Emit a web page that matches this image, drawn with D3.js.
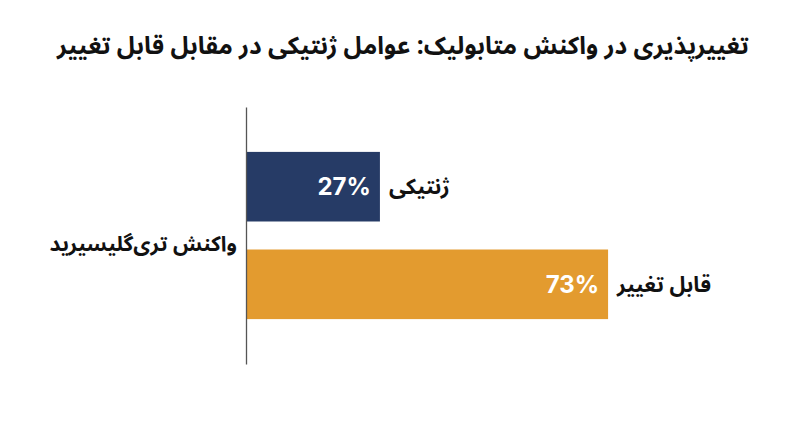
<!DOCTYPE html>
<html>
<head>
<meta charset="utf-8">
<script src="https://cdn.jsdelivr.net/npm/d3@7"></script>
<style>
  body { margin: 0; background: #fff; }
  svg { display: block; }
</style>
</head>
<body>
<script>
var title = "تغییرپذیری در واکنش متابولیک: عوامل ژنتیکی در مقابل قابل تغییر";
var category = "واکنش تری‌گلیسیرید";
var factors = ["ژنتیکی", "قابل تغییر"];
var shares = [27, 73];
var colors = ["#263b66", "#e39b2f"];

var width = 800, height = 447;
var faFont = "'Noto Sans Arabic', 'DejaVu Sans', sans-serif";
var numFont = "Inter, Roboto, sans-serif";

var svg = d3.select("body").append("svg")
  .attr("width", width)
  .attr("height", height);

var x = d3.scaleLinear().domain([0, 100]).range([246, 742]);
var y = d3.scaleBand().domain(factors).range([107, 364])
  .paddingInner(0.287).paddingOuter(0.46);

svg.append("text")
  .attr("x", 403).attr("y", 54)
  .attr("text-anchor", "middle")
  .attr("direction", "rtl")
  .style("font-family", faFont)
  .style("font-weight", "bold")
  .style("font-size", "24.5px")
  .attr("fill", "#111")
  .text(title);

svg.selectAll("rect.bar")
  .data(factors)
  .enter()
  .append("rect")
  .attr("class", "bar")
  .attr("x", x(0))
  .attr("y", function(d){ return y(d); })
  .attr("width", function(d, i){ return x(shares[i]) - x(0); })
  .attr("height", y.bandwidth())
  .attr("fill", function(d, i){ return colors[i]; });

// value labels inside bars
svg.selectAll("text.val")
  .data(factors)
  .enter()
  .append("text")
  .attr("class", "val")
  .attr("x", function(d, i){ return x(shares[i]) - 9; })
  .attr("y", function(d){ return y(d) + y.bandwidth() / 2; })
  .attr("dy", "0.35em")
  .attr("text-anchor", "end")
  .style("font-family", numFont)
  .style("font-weight", "bold")
  .style("font-size", "24px")
  .attr("fill", "#fff")
  .text(function(d, i){ return shares[i] + "%"; });

// factor names right of bars
svg.selectAll("text.name")
  .data(factors)
  .enter()
  .append("text")
  .attr("class", "name")
  .attr("x", function(d, i){ return x(shares[i]) + 9; })
  .attr("y", function(d){ return y(d) + y.bandwidth() / 2; })
  .attr("dy", "0.35em")
  .attr("text-anchor", "start")
  .style("font-family", faFont)
  .style("font-weight", "bold")
  .style("font-size", "21.5px")
  .attr("fill", "#111")
  .text(function(d){ return d; });

// axis line + category label
var axis = svg.append("g")
  .attr("transform", "translate(" + x(0) + ",0)")
  .call(d3.axisLeft(d3.scaleBand().domain([category]).range([107, 364])).tickSize(0).tickPadding(9));
axis.select(".domain").attr("stroke", "#555").attr("stroke-width", 1.3);
axis.selectAll(".tick text")
  .attr("dy", "0.75em")
  .style("font-family", faFont)
  .style("font-weight", "bold")
  .style("font-size", "21px")
  .attr("fill", "#111");
</script>
</body>
</html>
